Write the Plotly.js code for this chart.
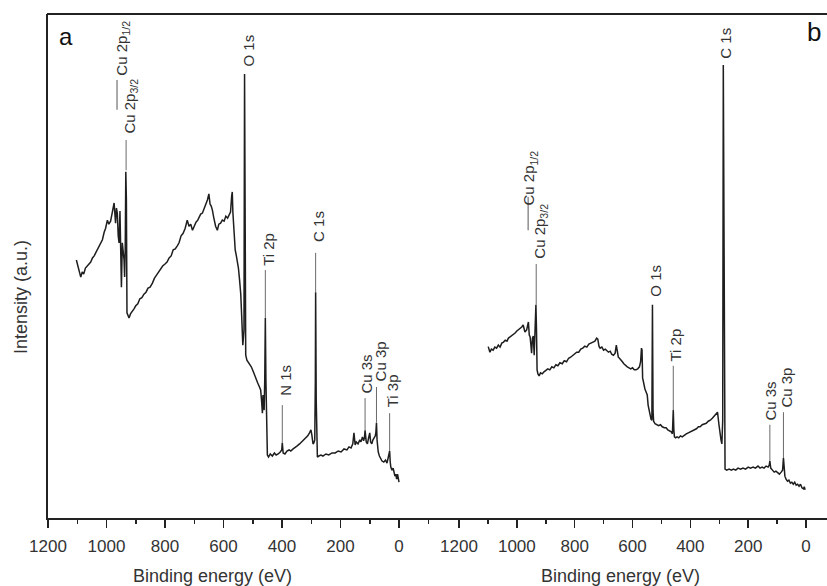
<!DOCTYPE html>
<html>
<head>
<meta charset="utf-8">
<script src="https://cdn.plot.ly/plotly-3.0.1.min.js"></script>
<style>html,body{margin:0;padding:0;overflow:hidden;background:#fff}</style>
</head>
<body>
<div id="chart" style="width:827px;height:586px"></div>
<script>
// ---------- DATA ----------
// Panel a: binding energy (eV) and intensity (a.u.)
const energyA = [1103,1098,1093,1088,1083,1078,1072,1066,1060,1054,1048,1042,1037,1031,1025,1020,1014,1008,1003,997,992,986,980,974,971,969,966,963,960,957,954,951,949,946,943,940,938,936,934,932,930,927,923,918,912,906,900,893,886,879,872,865,858,851,843,836,829,822,815,808,800,793,786,779,772,765,758,752,745,738,731,724,718,712,706,700,694,688,684,678,672,666,660,655,650,646,642,638,633,627,621,616,610,604,598,592,586,581,576,572,570,568,564,560,556,553,549,545,541,538,536,534,532,530,528,526,524,520,513,505,498,490,483,477,473,470,467,465,463,461,459,457,455,453,450,446,440,433,426,420,413,406,401,399,396,390,383,376,370,362,355,348,340,333,326,319,312,306,301,298,294,291,288,286,285,283,281,279,274,267,260,250,240,229,218,208,198,188,178,171,164,158,154,150,146,140,134,130,125,121,118,116,112,108,104,100,97,93,89,85,81,79,77,75,71,67,63,58,52,46,41,37,34,32,30,28,24,20,17,14,11,8,5,2,0];
const intensityA = [51.2,50.0,48.8,47.8,48.8,48.4,49.6,50.0,50.6,50.8,51.6,52.0,52.6,53.2,54.0,54.6,55.2,56.7,57.5,59.1,58.3,58.9,60.7,62.5,60.1,58.5,61.5,60.5,56.0,54.6,60.9,53.2,45.8,54.6,53.2,51.2,47.8,53.2,68.7,63.1,40.7,40.1,39.7,40.5,40.9,41.5,42.1,42.5,43.5,43.7,44.4,44.8,45.6,45.8,46.6,47.6,48.2,48.8,49.2,50.0,50.4,50.8,51.6,52.0,53.2,53.4,54.0,54.6,56.0,56.5,57.5,59.1,57.9,58.3,57.1,57.9,58.7,59.1,59.5,60.3,60.5,61.5,62.1,63.1,64.3,62.3,61.9,61.1,59.5,57.9,57.1,58.3,58.5,59.1,58.9,59.9,59.5,60.1,60.7,63.9,64.7,60.7,55.6,53.2,52.0,51.2,49.6,47.2,44.4,40.3,36.7,34.3,35.7,37.3,88.1,55.2,32.3,31.3,30.8,30.0,29.0,28.0,26.8,26.0,25.4,23.4,20.8,24.4,22.4,21.4,27.4,39.7,27.4,15.5,12.5,12.1,12.7,12.3,12.9,12.5,12.7,13.1,13.5,14.9,12.9,12.7,13.3,13.5,13.3,13.7,14.1,14.3,14.7,15.1,15.5,15.9,16.3,16.9,17.5,16.5,14.7,14.9,15.5,27.4,44.8,23.4,13.1,12.1,12.3,12.5,12.3,12.7,12.5,12.9,12.9,13.3,13.1,13.7,13.5,14.1,13.9,14.7,16.9,14.5,15.1,14.7,15.5,15.1,16.1,15.3,16.0,17.4,15.1,14.7,15.9,16.9,15.1,14.7,15.5,15.9,16.3,17.0,18.9,15.5,13.1,12.3,11.7,11.3,11.1,11.5,10.9,11.9,12.5,13.3,11.1,10.1,9.5,9.9,9.1,8.3,8.7,7.7,8.7,7.5,7.1];

// Panel b
const energyB = [1099,1095,1093,1088,1082,1076,1070,1064,1058,1052,1046,1040,1034,1029,1024,1018,1012,1006,1000,995,989,983,978,972,966,963,960,957,954,951,949,946,943,940,938,936,934,932,930,927,923,918,912,906,900,893,886,879,872,865,858,851,843,836,828,821,814,807,800,793,786,779,772,765,758,751,744,737,730,724,720,716,712,706,700,694,689,683,677,672,666,660,656,653,649,645,640,635,630,624,618,612,606,600,594,588,582,576,572,569,567,565,561,557,553,549,546,542,539,536,533,531,529,527,522,516,510,503,497,490,484,478,472,466,462,459,457,455,451,446,440,434,428,421,414,407,400,393,386,379,372,366,359,352,345,338,331,324,317,311,306,301,298,294,291,288,286,284,282,280,274,266,258,251,243,235,226,218,209,200,192,183,175,166,159,152,145,138,131,127,125,122,116,110,104,98,92,86,81,78,75,73,69,64,59,54,49,44,39,34,29,24,19,14,9,6,3];
const intensityB = [34.0,33.3,32.9,33.5,33.3,33.9,33.7,34.3,33.9,34.7,34.9,35.3,35.1,35.7,35.9,36.3,36.5,36.7,37.1,37.3,37.7,37.9,38.3,36.9,37.3,38.5,38.9,36.3,35.9,34.1,32.7,35.7,36.1,32.3,35.7,37.3,42.3,37.3,29.4,28.6,28.2,28.8,28.6,29.0,29.2,29.6,29.4,30.0,29.8,30.4,30.2,30.8,30.6,31.2,31.0,31.7,31.9,32.3,32.5,32.9,32.9,33.5,33.7,34.1,33.9,34.5,34.7,34.9,35.1,35.7,35.5,34.1,33.7,33.9,33.3,33.5,33.3,32.9,33.1,32.5,32.3,32.7,34.3,33.3,31.9,31.7,31.2,31.0,30.6,30.2,30.0,29.8,29.6,29.8,29.4,29.4,29.6,30.0,31.0,33.7,33.3,27.8,26.2,25.6,25.0,24.4,22.4,21.4,20.2,19.6,19.4,42.3,21.4,19.2,18.7,18.5,18.3,18.5,18.1,17.9,17.9,17.5,17.3,17.1,16.7,21.4,17.5,16.1,15.9,16.1,15.9,16.3,16.1,16.5,16.7,16.9,17.1,17.3,17.5,17.7,18.1,18.1,18.5,18.7,18.8,19.2,19.4,19.8,20.2,20.6,21.0,18.5,16.5,15.5,14.7,19.4,89.9,43.3,11.5,9.7,9.5,9.7,9.5,9.7,9.5,9.9,9.7,9.9,9.7,10.1,9.9,10.1,9.9,10.3,9.9,10.1,9.9,10.3,10.1,10.5,11.3,9.9,9.5,9.1,9.3,8.9,8.7,9.1,9.5,11.9,9.9,8.3,7.7,7.3,7.5,6.9,7.1,6.7,7.1,6.5,6.7,6.3,6.7,6.0,5.8,6.2,5.6];

// Axis ticks
const majorTicks = [1200, 1000, 800, 600, 400, 200, 0];
const minorTicksA = [1100, 900, 700, 500, 300, 100, -100];
const minorTicksB = [1100, 900, 700, 500, 300, 100];

// Peak labels (text, energy in eV)
const peakTextA = ["Cu 2p<sub>3/2</sub>", "Cu 2p<sub>1/2</sub>", "O 1s", "Ti 2p", "C 1s", "N 1s", "Cu 3s", "Cu 3p", "Ti 3p"];
const peakEnergyA = [933, 950, 528, 457, 285, 399, 116, 77, 32];
const peakTextB = ["C 1s", "Cu 2p<sub>1/2</sub>", "Cu 2p<sub>3/2</sub>", "O 1s", "Ti 2p", "Cu 3s", "Cu 3p"];
const peakEnergyB = [286, 951, 933, 531, 459, 125, 78];

// ---------- LAYOUT HELPERS (label placement) ----------
// [label bottom (a.u.), leader top (a.u.), leader bottom (a.u.), x shift px]
const placeA = [[76.0,75.0,69.0,4],[87.5,null,null,1],[89.3,null,null,4],[49.8,49.2,39.7,3],[54.6,52.6,44.8,3],[24.0,22.4,14.9,3],[24.4,23.8,17.4,1],[27.0,26.0,18.9,4],[21.8,20.8,13.3,3]];
const placeB = [[90.9,null,null,2],[61.7,null,null,-1],[51.2,50.4,42.3,4],[43.8,null,null,3],[30.8,30.2,21.4,2],[19.2,18.5,11.3,1],[21.8,21.0,11.9,3]];

const FONT = 'Liberation Sans, Arial, Helvetica, sans-serif';
const INK = '#222222';
const TXT = '#333333';

const traces = [
  {x: energyA, y: intensityA, xaxis: 'x', yaxis: 'y', type: 'scatter', mode: 'lines',
   line: {color: '#1e1e1e', width: 1.5}, hoverinfo: 'skip'},
  {x: energyB, y: intensityB, xaxis: 'x2', yaxis: 'y', type: 'scatter', mode: 'lines',
   line: {color: '#1e1e1e', width: 1.5}, hoverinfo: 'skip'}
];

const annotations = [];
const shapes = [];
function addLabels(texts, energies, place, xref) {
  texts.forEach((t, i) => {
    const p = place[i];
    annotations.push({text: t, x: energies[i], y: p[0], xref: xref, yref: 'y',
      textangle: -90, xanchor: 'center', yanchor: 'bottom', showarrow: false,
      xshift: p[3], font: {family: FONT, size: 15, color: TXT}, borderpad: 0});
    if (p[1] !== null) {
      shapes.push({type: 'line', xref: xref, yref: 'y', x0: energies[i], x1: energies[i],
        y0: p[1], y1: p[2], line: {color: '#6a6a6a', width: 1}});
    }
  });
}
addLabels(peakTextA, peakEnergyA, placeA, 'x');
addLabels(peakTextB, peakEnergyB, placeB, 'x2');

// small bars linking the two Cu 2p labels
shapes.push({type: 'line', xref: 'x', yref: 'y', x0: 964, x1: 964, y0: 86.9, y1: 81.0, line: {color: '#555', width: 1}});
shapes.push({type: 'line', xref: 'x2', yref: 'y', x0: 961, x1: 961, y0: 63.7, y1: 57.1, line: {color: '#555', width: 1}});

// frame top line
const W = 827, H = 586;
shapes.push({type: 'line', xref: 'paper', yref: 'paper', x0: 47/W, x1: 1, y0: 1 - 14/H, y1: 1 - 14/H,
  line: {color: INK, width: 2}});

// panel letters, axis titles
annotations.push({text: 'a', xref: 'paper', yref: 'paper', x: 66/W, y: 1 - 37/H, showarrow: false,
  xanchor: 'center', yanchor: 'middle', font: {family: FONT, size: 24, color: '#111'}});
annotations.push({text: 'b', xref: 'paper', yref: 'paper', x: 814/W, y: 1 - 32/H, showarrow: false,
  xanchor: 'center', yanchor: 'middle', font: {family: FONT, size: 26, color: '#111'}});
annotations.push({text: 'Binding energy (eV)', xref: 'paper', yref: 'paper', x: 212.5/W, y: 1 - 576/H,
  showarrow: false, xanchor: 'center', yanchor: 'middle', font: {family: FONT, size: 18, color: TXT}});
annotations.push({text: 'Binding energy (eV)', xref: 'paper', yref: 'paper', x: 620.5/W, y: 1 - 576/H,
  showarrow: false, xanchor: 'center', yanchor: 'middle', font: {family: FONT, size: 18, color: TXT}});
annotations.push({text: 'Intensity (a.u.)', xref: 'paper', yref: 'paper', x: 21/W, y: 1 - 297/H,
  showarrow: false, textangle: -90, xanchor: 'center', yanchor: 'middle', font: {family: FONT, size: 18, color: TXT}});

const xCommon = {
  tickmode: 'array', tickvals: majorTicks, ticks: 'outside', ticklen: 8, tickwidth: 1.5, tickcolor: INK,
  showline: true, linewidth: 2, linecolor: INK, showgrid: false, zeroline: false, anchor: 'y',
  tickfont: {family: FONT, size: 17, color: TXT}, ticklabelstandoff: 4, fixedrange: true
};

const layout = {
  width: W, height: H, margin: {l: 0, r: 0, t: 0, b: 0},
  paper_bgcolor: '#ffffff', plot_bgcolor: 'rgba(0,0,0,0)', showlegend: false,
  font: {family: FONT, size: 17, color: TXT},
  xaxis: Object.assign({}, xCommon, {domain: [48/W, 459/W], range: [1200, 1200 - 411/0.2925],
    minor: {tickmode: 'array', tickvals: minorTicksA, ticks: 'outside', ticklen: 4, tickwidth: 1.5, tickcolor: INK, showgrid: false}}),
  xaxis2: Object.assign({}, xCommon, {domain: [459/W, 1], range: [1200, 1200 - 368/0.28917],
    minor: {tickmode: 'array', tickvals: minorTicksB, ticks: 'outside', ticklen: 4, tickwidth: 1.5, tickcolor: INK, showgrid: false}}),
  yaxis: {domain: [1 - 518/H, 1 - 14/H], range: [0, 100], showline: true, linewidth: 2, linecolor: INK,
    ticks: '', showticklabels: false, showgrid: false, zeroline: false, fixedrange: true},
  annotations: annotations,
  shapes: shapes
};

Plotly.newPlot('chart', traces, layout, {staticPlot: true, displayModeBar: false});
</script>
</body>
</html>
